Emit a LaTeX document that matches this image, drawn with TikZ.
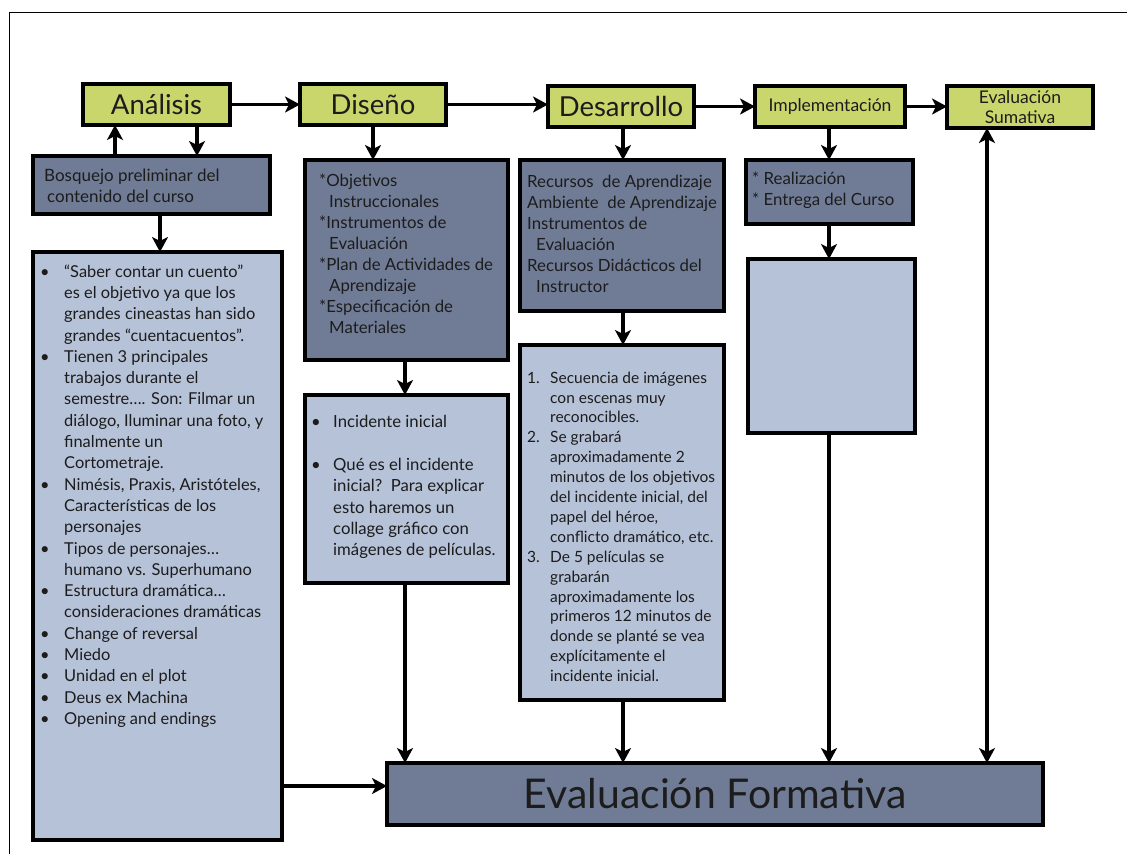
\documentclass[tikz,border=0pt]{standalone}
\usepackage{fontspec}
\setmainfont{Lato}
\usetikzlibrary{arrows.meta,calc}
\definecolor{grn}{RGB}{201,214,108}
\definecolor{drk}{RGB}{112,124,150}
\definecolor{lgt}{RGB}{182,194,216}
\definecolor{txtc}{RGB}{28,28,28}
\newcommand{\mybox}[6]{\node[#6, minimum width={#4-#2}, minimum height={#5-#3}] (#1) at ({(#2+#4)/2},{(#3+#5)/2}) {};}
\newcommand{\mybul}{\makebox[24pt][l]{•}}
\newcommand{\myind}{\hspace*{24pt}}
\newcommand{\mynum}[1]{\makebox[23pt][l]{#1}}
\newcommand{\mynind}{\hspace*{23pt}}
\begin{document}
\begin{tikzpicture}[x=1pt,y=-1pt,
  box/.style={draw=black, line width=3.2pt, inner sep=0pt, outer sep=0pt},
  gbox/.style={box, fill=grn},
  dbox/.style={box, fill=drk},
  lbox/.style={box, fill=lgt},
  tip/.style={},
  arr/.style={line width=3.6pt, -{Stealth[length=15pt,width=16pt,inset=4pt]}},
  darr/.style={line width=3.6pt, {Stealth[length=15pt,width=16pt,inset=4pt]}-{Stealth[length=15pt,width=16pt,inset=4pt]}},
  txt/.style={inner sep=0pt, anchor=north west, align=left, text=txtc},
  ttl/.style={inner sep=0pt, align=center, text=txtc}]
\useasboundingbox (0,0) rectangle (1127,854);
\fill[white] (0,0) rectangle (1127,854);
% frame
\draw[line width=1.8pt] (9.5,854) -- (9.5,12.5) -- (1127,12.5);
% top boxes
\mybox{ana}{83}{84}{230}{125}{gbox}
\mybox{dis}{300}{84}{446}{125}{gbox}
\mybox{des}{548}{86}{694}{127}{gbox}
\mybox{imp}{755}{86}{905}{127}{gbox}
\mybox{sum}{947}{86}{1093}{128}{gbox}
\node[ttl, font=\fontsize{27.5}{30}\selectfont] at (ana) {Análisis};
\node[ttl, font=\fontsize{27.5}{30}\selectfont] at (dis) {Diseño};
\node[ttl, font=\fontsize{27.5}{30}\selectfont] at (des) {Desarrollo};
\node[ttl, font=\fontsize{17.5}{20}\selectfont] at (imp) {Implementación};
\node[ttl, font=\fontsize{17.5}{20}\selectfont] at (sum) {Evaluación\\Sumativa};
% content boxes
\mybox{bosq}{33}{156}{270}{214}{dbox}
\mybox{left}{33}{252}{282}{840}{lbox}
\mybox{obj}{305}{160}{508}{360}{dbox}
\mybox{inc}{305}{395}{508}{583}{lbox}
\mybox{rec}{520}{160}{724}{311}{dbox}
\mybox{sec}{520}{345}{724}{700}{lbox}
\mybox{real}{746}{160}{913}{224}{dbox}
\mybox{empty}{748}{259}{915}{433}{lbox}
\mybox{form}{387}{763}{1043}{825}{dbox}
\node[ttl, font=\fontsize{41}{44}\selectfont] at (form) {Evaluación Formativa};
% texts
\node[txt, font=\fontsize{17}{21}\selectfont] at (44,167) {\strut Bosquejo preliminar del\\ \hspace*{3pt}contenido del curso};
\node[txt, font=\fontsize{16.8}{21}\selectfont] at (319,172) {\strut *Objetivos\\ \hspace*{10pt}Instruccionales\\ *Instrumentos de\\ \hspace*{10pt}Evaluación\\ *Plan de Actividades de\\ \hspace*{10pt}Aprendizaje\\ *Especificación de\\ \hspace*{10pt}Materiales};
\node[txt, font=\fontsize{16.8}{21}\selectfont] at (527,173) {\strut Recursos\ \ de Aprendizaje\\ Ambiente\ \ de Aprendizaje\\ Instrumentos de\\ \hspace*{9pt}Evaluación\\ Recursos Didácticos del\\ \hspace*{9pt}Instructor};
\node[txt, font=\fontsize{16.8}{21}\selectfont] at (752,170) {\strut * Realización\\ * Entrega del Curso};
\node[txt, font=\fontsize{16.4}{21.3}\selectfont] at (40,262) {\strut\mybul “Saber contar un cuento”\\
\myind es el objetivo ya que los\\
\myind grandes cineastas han sido\\
\myind grandes “cuentacuentos”.\\
\mybul Tienen 3 principales\\
\myind trabajos durante el\\
\myind semestre…. Son: Filmar un\\
\myind diálogo, Iluminar una foto, y\\
\myind finalmente un\\
\myind Cortometraje.\\
\mybul Nimésis, Praxis, Aristóteles,\\
\myind Características de los\\
\myind personajes\\
\mybul Tipos de personajes…\\
\myind humano vs. Superhumano\\
\mybul Estructura dramática…\\
\myind consideraciones dramáticas\\
\mybul Change of reversal\\
\mybul Miedo\\
\mybul Unidad en el plot\\
\mybul Deus ex Machina\\
\mybul Opening and endings};
\node[txt, font=\fontsize{16.7}{21.3}\selectfont] at (311,412) {\strut\makebox[22pt][l]{•}Incidente inicial\\[22pt]
\makebox[22pt][l]{•}Qué es el incidente\\
\hspace*{22pt}inicial?\ \ Para explicar\\
\hspace*{22pt}esto haremos un\\
\hspace*{22pt}collage gráfico con\\
\hspace*{22pt}imágenes de películas.};
\node[txt, font=\fontsize{15.5}{19.9}\selectfont] at (527,369) {\strut\mynum{1.}Secuencia de imágenes\\
\mynind con escenas muy\\
\mynind reconocibles.\\
\mynum{2.}Se grabará\\
\mynind aproximadamente 2\\
\mynind minutos de los objetivos\\
\mynind del incidente inicial, del\\
\mynind papel del héroe,\\
\mynind conflicto dramático, etc.\\
\mynum{3.}De 5 películas se\\
\mynind grabarán\\
\mynind aproximadamente los\\
\mynind primeros 12 minutos de\\
\mynind donde se planté se vea\\
\mynind explícitamente el\\
\mynind incidente inicial.};
% helper coordinates
\coordinate (c1) at (115,0);
\coordinate (c2) at (197,0);
\coordinate (c3) at (160,0);
\coordinate (c4) at (0,786);
\coordinate (c5) at (373,0);
\coordinate (c6) at (405,0);
\coordinate (c7) at (623,0);
\coordinate (c8) at (829,0);
\coordinate (c9) at (987,0);
% connectors
\draw[arr] (ana.east) -- (dis.west);
\draw[arr] (dis.east) -- (dis.east -| des.west);
\draw[arr] (des.east) -- (des.east -| imp.west);
\draw[arr] (imp.east) -- (imp.east -| sum.west);
\draw[arr] (bosq.north -| c1) -- (ana.south -| c1);
\draw[arr] (ana.south -| c2) -- (bosq.north -| c2);
\draw[arr] (bosq.south -| c3) -- (left.north -| c3);
\draw[arr] (left.east |- c4) -- (form.west |- c4);
\draw[arr] (dis.south -| c5) -- (obj.north -| c5);
\draw[arr] (obj.south -| c6) -- (inc.north -| c6);
\draw[arr] (inc.south -| c6) -- (form.north -| c6);
\draw[arr] (des.south -| c7) -- (rec.north -| c7);
\draw[arr] (rec.south -| c7) -- (sec.north -| c7);
\draw[arr] (sec.south -| c7) -- (form.north -| c7);
\draw[arr] (imp.south -| c8) -- (real.north -| c8);
\draw[arr] (real.south -| c8) -- (empty.north -| c8);
\draw[arr] (empty.south -| c8) -- (form.north -| c8);
\draw[darr] (form.north -| c9) -- (sum.south -| c9);
\end{tikzpicture}
\end{document}
